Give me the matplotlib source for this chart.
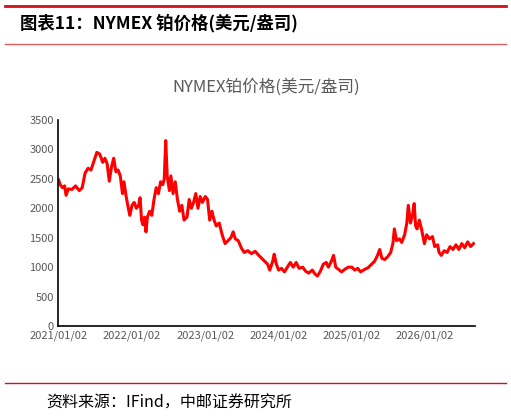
import numpy as np
import matplotlib
matplotlib.use('Agg')
import matplotlib.pyplot as plt
from matplotlib.lines import Line2D

plt.rcParams['font.family'] = ['Noto Sans CJK SC', 'DejaVu Sans']

# ============================================================
# DATA (each pair = (decimal year, price))
# ============================================================
year_labels = ['2021/01/02', '2022/01/02', '2023/01/02', '2024/01/02', '2025/01/02', '2026/01/02']
year_ticks = [2021, 2022, 2023, 2024, 2025, 2026]

trace = [
    (2021.00, 2480), (2021.02, 2400), (2021.05, 2350), (2021.08, 2380), (2021.10, 2220),
    (2021.13, 2330), (2021.18, 2320), (2021.23, 2380), (2021.28, 2300), (2021.32, 2350),
    (2021.36, 2600), (2021.40, 2680), (2021.44, 2650), (2021.48, 2800), (2021.52, 2950),
    (2021.56, 2920), (2021.60, 2780), (2021.63, 2850), (2021.66, 2760), (2021.69, 2460),
    (2021.72, 2700), (2021.75, 2850), (2021.78, 2620), (2021.81, 2650), (2021.84, 2550),
    (2021.87, 2250), (2021.89, 2450), (2021.92, 2200), (2021.95, 2000), (2021.97, 1880),
    (2022.00, 2050), (2022.03, 2100), (2022.06, 2000), (2022.09, 2050), (2022.11, 2180),
    (2022.13, 1800), (2022.15, 1720), (2022.17, 1850), (2022.19, 1600), (2022.21, 1850),
    (2022.24, 1950), (2022.27, 1880), (2022.30, 2150), (2022.33, 2350), (2022.36, 2250),
    (2022.39, 2450), (2022.42, 2400), (2022.44, 2500), (2022.46, 3150), (2022.48, 2550),
    (2022.51, 2300), (2022.53, 2550), (2022.56, 2250), (2022.59, 2450), (2022.62, 2150),
    (2022.65, 1950), (2022.68, 2050), (2022.71, 1800), (2022.75, 1850), (2022.78, 2150),
    (2022.81, 2000), (2022.84, 2100), (2022.87, 2250), (2022.90, 2000), (2022.93, 2200),
    (2022.96, 2100), (2023.00, 2200), (2023.03, 2150), (2023.06, 1800), (2023.09, 1950),
    (2023.12, 1800), (2023.15, 1700), (2023.19, 1750), (2023.23, 1550), (2023.27, 1400),
    (2023.31, 1450), (2023.35, 1500), (2023.38, 1600), (2023.41, 1480), (2023.45, 1450),
    (2023.49, 1330), (2023.53, 1250), (2023.58, 1280), (2023.63, 1230), (2023.68, 1270),
    (2023.73, 1200), (2023.77, 1150), (2023.81, 1100), (2023.85, 1050), (2023.88, 950),
    (2023.92, 1100), (2023.94, 1220), (2023.97, 1050), (2024.00, 950), (2024.04, 980),
    (2024.08, 920), (2024.12, 1000), (2024.16, 1080), (2024.20, 1000), (2024.24, 1080),
    (2024.28, 980), (2024.33, 1000), (2024.37, 930), (2024.41, 900), (2024.46, 950),
    (2024.50, 880), (2024.53, 850), (2024.57, 930), (2024.61, 1050), (2024.65, 1080),
    (2024.68, 1000), (2024.72, 1100), (2024.75, 1200), (2024.78, 1000), (2024.82, 960),
    (2024.86, 920), (2024.90, 960), (2024.95, 1000), (2025.00, 1000), (2025.04, 950),
    (2025.08, 980), (2025.12, 920), (2025.17, 960), (2025.22, 990), (2025.27, 1050),
    (2025.31, 1100), (2025.35, 1200), (2025.38, 1300), (2025.41, 1150), (2025.45, 1130),
    (2025.49, 1180), (2025.53, 1250), (2025.56, 1400), (2025.58, 1650), (2025.61, 1450),
    (2025.65, 1480), (2025.68, 1420), (2025.72, 1550), (2025.75, 1750), (2025.77, 2050),
    (2025.80, 1750), (2025.83, 1900), (2025.85, 2080), (2025.87, 1700), (2025.89, 1650),
    (2025.92, 1800), (2025.95, 1650), (2025.99, 1400), (2026.02, 1550), (2026.06, 1480),
    (2026.10, 1520), (2026.13, 1350), (2026.17, 1380), (2026.19, 1250), (2026.22, 1200),
    (2026.26, 1280), (2026.30, 1250), (2026.34, 1350), (2026.38, 1300), (2026.42, 1380),
    (2026.46, 1300), (2026.50, 1400), (2026.54, 1330), (2026.58, 1430), (2026.62, 1350),
    (2026.66, 1400),
]
t = np.array([p[0] for p in trace])
price = np.array([p[1] for p in trace])

# ============================================================
# FIGURE
# ============================================================
fig = plt.figure(figsize=(5.11, 4.18), dpi=100)
ax = fig.add_axes([0.1135, 0.22, 0.816, 0.493])
ax.plot(t, price, color='#ff0000', lw=2.2)

ax.set_xlim(2020.99, 2026.68)
ax.set_ylim(0, 3500)
ax.set_yticks(range(0, 3501, 500))
ax.set_xticks(year_ticks)
ax.set_xticklabels(year_labels)
for s in ['top', 'right']:
    ax.spines[s].set_visible(False)
ax.spines['left'].set_linewidth(1.2)
ax.spines['bottom'].set_linewidth(1.2)
ax.tick_params(axis='both', labelsize=8, colors='#595959', length=0, pad=3)

ax.set_title('NYMEX铂价格(美元/盎司)', fontsize=12, color='#595959', pad=20)

fig.text(0.04, 0.945, '图表11：NYMEX 铂价格(美元/盎司)', fontsize=12.5, fontweight='bold', va='center')
fig.add_artist(Line2D([0.01, 0.99], [0.985, 0.985], color='#d0101b', lw=2, transform=fig.transFigure))
fig.add_artist(Line2D([0.01, 0.99], [0.895, 0.895], color='#e06060', lw=1, transform=fig.transFigure))
fig.add_artist(Line2D([0.01, 0.99], [0.083, 0.083], color='#d0101b', lw=1, transform=fig.transFigure))
fig.text(0.09, 0.035, '资料来源：IFind，中邮证券研究所', fontsize=11.5, va='center')

fig.savefig('out.png', dpi=100)
